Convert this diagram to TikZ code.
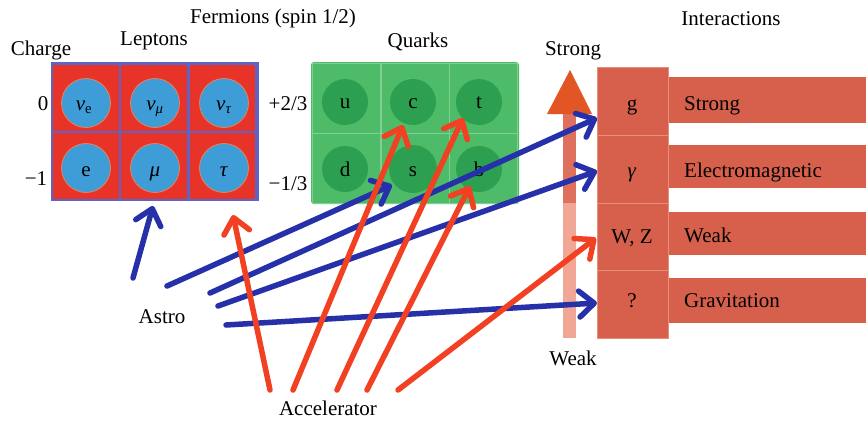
\documentclass[tikz,border=0pt]{standalone}
\usepackage{fontspec}
\setmainfont{Liberation Serif}
\usetikzlibrary{arrows.meta}
\definecolor{lepred}{RGB}{232,52,40}
\definecolor{lepblue}{RGB}{92,100,200}
\definecolor{lepcirc}{RGB}{62,156,214}
\definecolor{lepcircline}{RGB}{235,130,90}
\definecolor{qgreen}{RGB}{78,187,105}
\definecolor{qline}{RGB}{128,208,146}
\definecolor{qcirc}{RGB}{44,160,80}
\definecolor{intred}{RGB}{214,96,76}
\definecolor{intline}{RGB}{232,142,122}
\definecolor{arrblue}{RGB}{38,48,168}
\definecolor{arrred}{RGB}{242,64,34}
\definecolor{shafttop}{RGB}{224,112,94}
\definecolor{shaftbot}{RGB}{242,166,150}
\definecolor{headred}{RGB}{226,86,38}
\begin{document}
\begin{tikzpicture}[x=1pt,y=-1pt,
  txt/.style={font=\fontsize{21}{24}\selectfont, inner sep=0pt, anchor=base},
  lcell/.style={fill=lepred, draw=lepblue, line width=1.6pt, minimum width=67pt, minimum height=67pt, inner sep=0pt},
  lcirc/.style={circle, fill=lepcirc, draw=lepcircline, line width=0.8pt, minimum size=49pt, inner sep=0pt},
  qcell/.style={fill=qgreen, draw=qline, line width=1pt, minimum width=68pt, minimum height=70pt, inner sep=0pt},
  qcircle/.style={circle, fill=qcirc, minimum size=46pt, inner sep=0pt},
  ibox/.style={fill=intred, draw=intline, line width=0.8pt, minimum width=71pt, minimum height=68pt, inner sep=0pt},
  ibar/.style={fill=intred, minimum width=198pt, inner sep=0pt, anchor=west},
  bluearr/.style={draw=arrblue, line width=5.5pt, line cap=round, -{Straight Barb[length=15pt,width=26pt,round]}},
  redarr/.style={draw=arrred, line width=5.5pt, line cap=round, -{Straight Barb[length=15pt,width=26pt,round]}},
]
\useasboundingbox (0,0) rectangle (866,421);
\fill[white] (0,0) rectangle (866,421);

% titles
\node[txt] (fermions) at (273,23) {Fermions (spin 1/2)};
\node[txt] (leptons) at (154,45) {Leptons};
\node[txt] (charge) at (41,55) {Charge};
\node[txt] (quarks) at (418,47) {Quarks};
\node[txt] (interactions) at (731,25) {Interactions};
\node[txt] (strongtop) at (573,55) {Strong};
\node[txt] (weakbot) at (573,365) {Weak};
\node[txt] (astro) at (162,323) {Astro};
\node[txt] (accel) at (328,415) {Accelerator};

% charges
\node[txt] (c0) at (43,110) {0};
\node[txt] (cm1) at (36,185) {−1};
\node[txt] (cp23) at (288,110) {+2/3};
\node[txt] (cm13) at (288,190) {−1/3};

% lepton grid
\fill[lepblue] (51,62) rectangle (259,201);
\foreach \c/\x in {1/86,2/154,3/222.5}{
  \node[lcell] (l1\c) at (\x,98) {};
  \node[lcell] (l2\c) at (\x,166) {};
}
\node[lcirc] (cnue) at (86,103) {};
\node[lcirc] (cnumu) at (155,103) {};
\node[lcirc] (cnutau) at (224,103) {};
\node[lcirc] (ce) at (86,168) {};
\node[lcirc] (cmu) at (155,168) {};
\node[lcirc] (ctau) at (224,168) {};
\node[txt] at (84,110) {\textit{ν}\textsubscript{e}};
\node[txt] at (155,110) {\textit{ν}\textsubscript{\textit{μ}}};
\node[txt] at (224,110) {\textit{ν}\textsubscript{\textit{τ}}};
\node[txt] at (86,176) {e};
\node[txt] at (155,176) {\textit{μ}};
\node[txt] at (224,176) {\textit{τ}};

% quark grid
\fill[qgreen, rounded corners=3pt] (311,62) rectangle (519,204);
\foreach \c/\x in {1/346.5,2/415,3/483.5}{
  \node[qcell] (q1\c) at (\x,98) {};
  \node[qcell] (q2\c) at (\x,168) {};
}
\node[qcircle] (cu) at (345,102) {};
\node[qcircle] (cc) at (413,102) {};
\node[qcircle] (ct) at (479,102) {};
\node[qcircle] (cd) at (345,169) {};
\node[qcircle, minimum size=48pt] (cs) at (413,169) {};
\node[qcircle] (cb) at (479,169) {};
\node[txt] at (345,108) {u};
\node[txt] at (413,108) {c};
\node[txt] at (479,108) {t};
\node[txt] at (345,176) {d};
\node[txt] at (413,176) {s};
\node[txt] at (479,176) {b};

% vertical strength arrow
\fill[shaftbot] (563,200) rectangle (576,338);
\fill[shafttop] (563,113) rectangle (576,203);
\fill[headred] (547,114) -- (592,114) -- (570,70) -- cycle;

% interaction bars and boxes
\node[ibar, minimum height=46pt] (bstrong) at (668,100) {};
\node[ibar, minimum height=43pt] (bem) at (668,166.5) {};
\node[ibar, minimum height=43pt] (bweak) at (668,233.5) {};
\node[ibar, minimum height=45pt] (bgrav) at (668,300.5) {};
\node[txt] at ([xshift=16pt]bstrong.west |- 0,110) [anchor=base west] {Strong};
\node[txt] at ([xshift=16pt]bem.west |- 0,177) [anchor=base west] {Electromagnetic};
\node[txt] at ([xshift=16pt]bweak.west |- 0,242) [anchor=base west] {Weak};
\node[txt] at ([xshift=16pt]bgrav.west |- 0,307) [anchor=base west] {Gravitation};

\node[ibox] (g) at (632.5,101) {};
\node[ibox] (gam) at (632.5,169) {};
\node[ibox, minimum height=67pt] (wz) at (632.5,236.5) {};
\node[ibox] (grav) at (632.5,304) {};
\node[txt] at (632,110) {g};
\node[txt] at (632,177) {\textit{γ}};
\node[txt] at (632,243) {W, Z};
\node[txt] at (632,307) {?};

% connector end points
\coordinate (a1) at (133,278);
\coordinate (a2) at (167,286);
\coordinate (a3) at (210,293);
\coordinate (a4) at (218,306);
\coordinate (a5) at (226,325);
\coordinate (r1) at (270,390);
\coordinate (r2) at (293,390);
\coordinate (r3) at (337,390);
\coordinate (r4) at (367,390);
\coordinate (r5) at (398,390);
\coordinate (tmu) at (153,206);
\coordinate (tds) at (392,185);
\coordinate (tg) at (597,118);
\coordinate (tgam) at (597,171);
\coordinate (tgrav) at (597,303);
\coordinate (ttau) at (233,215);
\coordinate (tc) at (403,125);
\coordinate (tt) at (463,118);
\coordinate (tb) at (470,186);
\coordinate (twz) at (596,238);

% blue arrows (astro)
\draw[bluearr] (a1) -- (tmu);
\draw[bluearr] (a2) -- (tds);
\draw[bluearr] (a3) -- (tg);
\draw[bluearr] (a4) -- (tgam);
\draw[bluearr] (a5) -- (tgrav);

% red arrows (accelerator)
\draw[redarr] (r1) -- (ttau);
\draw[redarr] (r2) -- (tc);
\draw[redarr] (r3) -- (tt);
\draw[redarr] (r4) -- (tb);
\draw[redarr] (r5) -- (twz);
\end{tikzpicture}
\end{document}
